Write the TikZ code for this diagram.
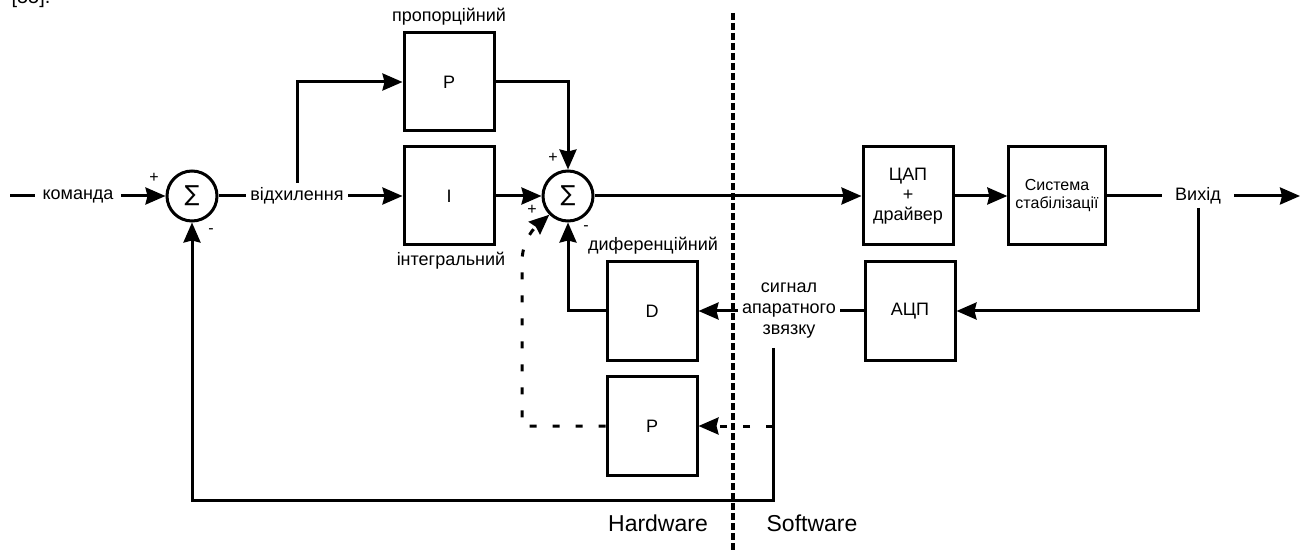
\documentclass[tikz,border=0pt]{standalone}
\usepackage{fontspec}
\setmainfont{Liberation Sans}
\newfontfamily\symfont{DejaVu Sans}
\usetikzlibrary{arrows.meta,positioning}

\begin{document}
\begin{tikzpicture}[x=0.5bp, y=-0.5bp, line width=1.5bp,
>={Stealth[length=10bp,width=8.5bp,inset=1bp]},
block/.style={draw, minimum width=45bp, minimum height=49bp, align=center,
  font=\fontsize{9bp}{10bp}\selectfont},
sum/.style={draw, circle, minimum size=25bp, inner sep=0pt,
  font=\symfont\fontsize{11bp}{11bp}\selectfont},
lbl/.style={inner sep=2bp, align=center, font=\fontsize{9bp}{10.5bp}\selectfont},
sgn/.style={inner sep=0pt, font=\fontsize{8bp}{8bp}\selectfont},
fbdash/.style={dash pattern=on 3.5bp off 8bp},
divider/.style={line width=2bp, dash pattern=on 3.5bp off 1.5bp}]
        \useasboundingbox (0,0) rectangle (1304,552);
        \node [lbl, anchor=base west, font=\fontsize{10bp}{12bp}\selectfont] (ref) at (6,4) {[55].};

        \node [sum] (S1) at (192,196) {∑};
        \node [sum] (S2) at (568,196) {∑};
        \node [block] (P) at (449,82) {P};
        \node [block] (I) at (449,196) {I};
        \node [block] (D) at (652,311) {D};
        \node [block] (Pd) at (652,426) {P};
        \node [block] (DAC) at (908,196) {ЦАП\\+\\драйвер};
        \node [block, font=\fontsize{8bp}{9bp}\selectfont] (ST) at (1057,196) {Система\\стабілізації};
        \node [block] (ADC) at (910,311) {АЦП};

        \node [lbl, inner xsep=3bp] (cmd) at (78,196) {команда};
        \node [lbl, inner xsep=1.5bp] (err) at (297,196) {відхилення};
        \node [lbl, inner xsep=6bp] (out) at (1198,196) {Вихід};
        \node [lbl, inner sep=1.5bp] (fb) at (789,311) {сигнал\\апаратного\\звязку};
        \node [lbl] (lP) at (449,17) {пропорційний};
        \node [lbl] (lI) at (451,261) {інтегральний};
        \node [lbl] (lD) at (653,246) {диференційний};
        \node [lbl, font=\fontsize{11.5bp}{13bp}\selectfont] (hw) at (658,523) {Hardware};
        \node [lbl, font=\fontsize{11.5bp}{13bp}\selectfont] (sw) at (812,523) {Software};

        \node [sgn] (s1a) at (154,178) {+};
        \node [sgn] (s1b) at (211,231) {-};
        \node [sgn] (s2a) at (553,158) {+};
        \node [sgn] (s2b) at (532,210) {+};
        \node [sgn] (s2c) at (586,228) {-};

        \coordinate (in) at (10,196);
        \coordinate (br) at (297,183);
        \coordinate (end) at (1300,196);
        \coordinate (o1) at (1198,208);
        \coordinate (fb0) at (773,348);
        \coordinate (fb1) at (773,500);
        \coordinate (dk) at (522,262);

        \draw (in) -- (cmd);
        \draw [->] (cmd) -- (S1);
        \draw (S1) -- (err);
        \draw [->] (err) -- (I);
        \draw [->] (br) |- (P);
        \draw [->] (P) -| (S2);
        \draw [->] (I) -- (S2);
        \draw [->] (D) -| (S2);
        \draw [->] (S2) -- (DAC);
        \draw [->] (DAC) -- (ST);
        \draw (ST) -- (out);
        \draw [->] (out) -- (end);
        \draw [->] (o1) |- (ADC);
        \draw (ADC) -- (fb);
        \draw [->] (fb) -- (D);
        \draw [->] (fb0) -- (fb1) -| (S1);
        \draw [->, fbdash] (fb0 |- Pd) -- (Pd);
        \draw [->, fbdash] (Pd) -| (dk) .. controls (522,245) and (530,232) .. (S2.225);

        \draw [divider] (733,13) -- (733,552);
    \end{tikzpicture}
\end{document}
